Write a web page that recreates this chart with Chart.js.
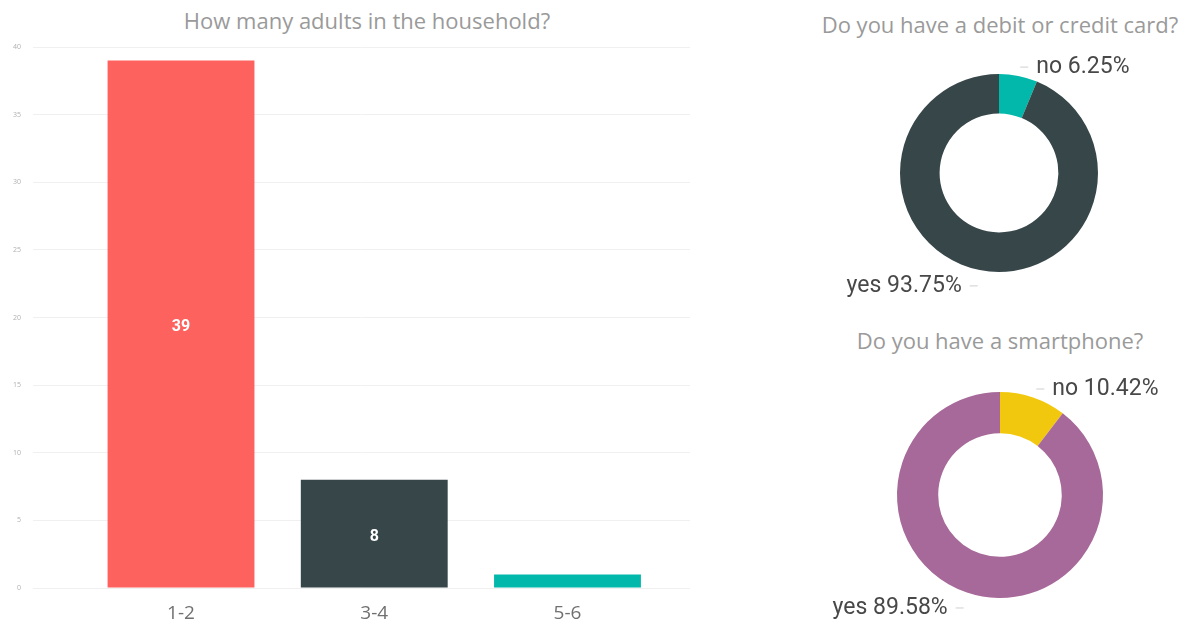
<!DOCTYPE html>
<html>
<head>
<meta charset="utf-8">
<script src="https://cdn.jsdelivr.net/npm/chart.js@4.4.1/dist/chart.umd.min.js"></script>
<style>
  body { margin: 0; background: #fff; width: 1189px; height: 624px; overflow: hidden; position: relative; font-family: "Open Sans", sans-serif; }
  .box { position: absolute; }
  .title { position: absolute; color: #9a9a9a; font-size: 22px; text-align: center; white-space: nowrap; }
</style>
</head>
<body>
<div class="title" style="left:0; width:734px; top:5px;">How many adults in the household?</div>
<div class="title" style="left:800px; width:400px; top:9px;">Do you have a debit or credit card?</div>
<div class="title" style="left:800px; width:400px; top:325px;">Do you have a smartphone?</div>

<div class="box" style="left:0; top:0; width:700px; height:624px;"><canvas id="adultsChart"></canvas></div>
<div class="box" style="left:800px; top:0; width:389px; height:310px;"><canvas id="cardChart"></canvas></div>
<div class="box" style="left:800px; top:316px; width:389px; height:308px;"><canvas id="phoneChart"></canvas></div>

<script>
// data
const adultGroups = ['1-2', '3-4', '5-6'];
const adultCounts = [39, 8, 1];
const adultColors = ['#FD625E', '#374649', '#01B8AA'];

const cardAnswers = ['no', 'yes'];
const cardShares = [6.25, 93.75];
const cardColors = ['#01B8AA', '#374649'];

const phoneAnswers = ['no', 'yes'];
const phoneShares = [10.42, 89.58];
const phoneColors = ['#F2C80F', '#A66999'];

Chart.defaults.animation = false;
Chart.defaults.plugins.legend.display = false;
Chart.defaults.plugins.tooltip.enabled = false;
Chart.defaults.maintainAspectRatio = false;

// white value labels inside the bars
const barValues = {
    id: 'barValues',
    afterDatasetsDraw(chart) {
        const ctx = chart.ctx;
        const meta = chart.getDatasetMeta(0);
        ctx.save();
        ctx.fillStyle = '#ffffff';
        ctx.font = 'bold 16px Roboto';
        ctx.textAlign = 'center';
        ctx.textBaseline = 'middle';
        meta.data.forEach((bar, i) => {
            if (bar.base - bar.y < 24) return;
            ctx.fillText(adultCounts[i], bar.x, (bar.y + bar.base) / 2 + 3);
        });
        ctx.restore();
    }
};

// outside labels with a short leader line
const sliceLabels = {
    id: 'sliceLabels',
    afterDatasetsDraw(chart) {
        const ctx = chart.ctx;
        const meta = chart.getDatasetMeta(0);
        const labels = chart.data.labels;
        const values = chart.data.datasets[0].data;
        ctx.save();
        ctx.font = '23px Roboto';
        ctx.fillStyle = '#484848';
        ctx.strokeStyle = '#cfcfcf';
        ctx.lineWidth = 1;
        ctx.textBaseline = 'middle';
        meta.data.forEach((arc, i) => {
            const mid = (arc.startAngle + arc.endAngle) / 2;
            const r = arc.outerRadius + 10;
            const px = arc.x + Math.cos(mid) * r;
            const py = arc.y + Math.sin(mid) * r + (Math.sin(mid) > 0 ? 6 : 1);
            const right = Math.cos(mid) >= 0;
            const lineEnd = px + (right ? 8 : -8);
            ctx.beginPath();
            ctx.moveTo(px, py);
            ctx.lineTo(lineEnd, py);
            ctx.stroke();
            ctx.textAlign = right ? 'left' : 'right';
            ctx.fillText(labels[i] + ' ' + values[i].toFixed(2) + '%', lineEnd + (right ? 8 : -8), py);
        });
        ctx.restore();
    }
};

new Chart(document.getElementById('adultsChart'), {
    type: 'bar',
    data: {
        datasets: [{
            data: adultCounts.map((v, i) => ({ x: i + 1, y: v })),
            backgroundColor: adultColors,
            borderWidth: 0,
            categoryPercentage: 1,
            barPercentage: 0.76
        }]
    },
    options: {
        layout: { padding: { top: 47, right: 10, left: 0, bottom: 0 } },
        scales: {
            x: {
                type: 'linear',
                offset: false,
                min: 0.234,
                max: 3.634,
                grid: { display: false, offset: false },
                border: { display: false },
                afterFit(scale) { scale.height = 36; },
                ticks: {
                    stepSize: 1,
                    includeBounds: false,
                    padding: 6,
                    color: '#707070',
                    font: { family: 'Open Sans', size: 19 },
                    callback: v => adultGroups[v - 1] || ''
                }
            },
            y: {
                min: 0,
                max: 40,
                grid: { color: '#f0f0f0', drawTicks: false },
                border: { display: false },
                afterFit(scale) { scale.width = 33; },
                ticks: {
                    stepSize: 5,
                    padding: 12,
                    color: '#b0b0b0',
                    font: { family: 'Open Sans', size: 7 }
                }
            }
        }
    },
    plugins: [barValues]
});

new Chart(document.getElementById('cardChart'), {
    type: 'doughnut',
    data: {
        labels: cardAnswers,
        datasets: [{ data: cardShares, backgroundColor: cardColors, borderWidth: 0 }]
    },
    options: {
        cutout: '60%',
        layout: { padding: { left: 100, right: 91, top: 74, bottom: 38 } }
    },
    plugins: [sliceLabels]
});

new Chart(document.getElementById('phoneChart'), {
    type: 'doughnut',
    data: {
        labels: phoneAnswers,
        datasets: [{ data: phoneShares, backgroundColor: phoneColors, borderWidth: 0 }]
    },
    options: {
        cutout: '60%',
        layout: { padding: { left: 97, right: 86, top: 76, bottom: 26 } }
    },
    plugins: [sliceLabels]
});
</script>
</body>
</html>
